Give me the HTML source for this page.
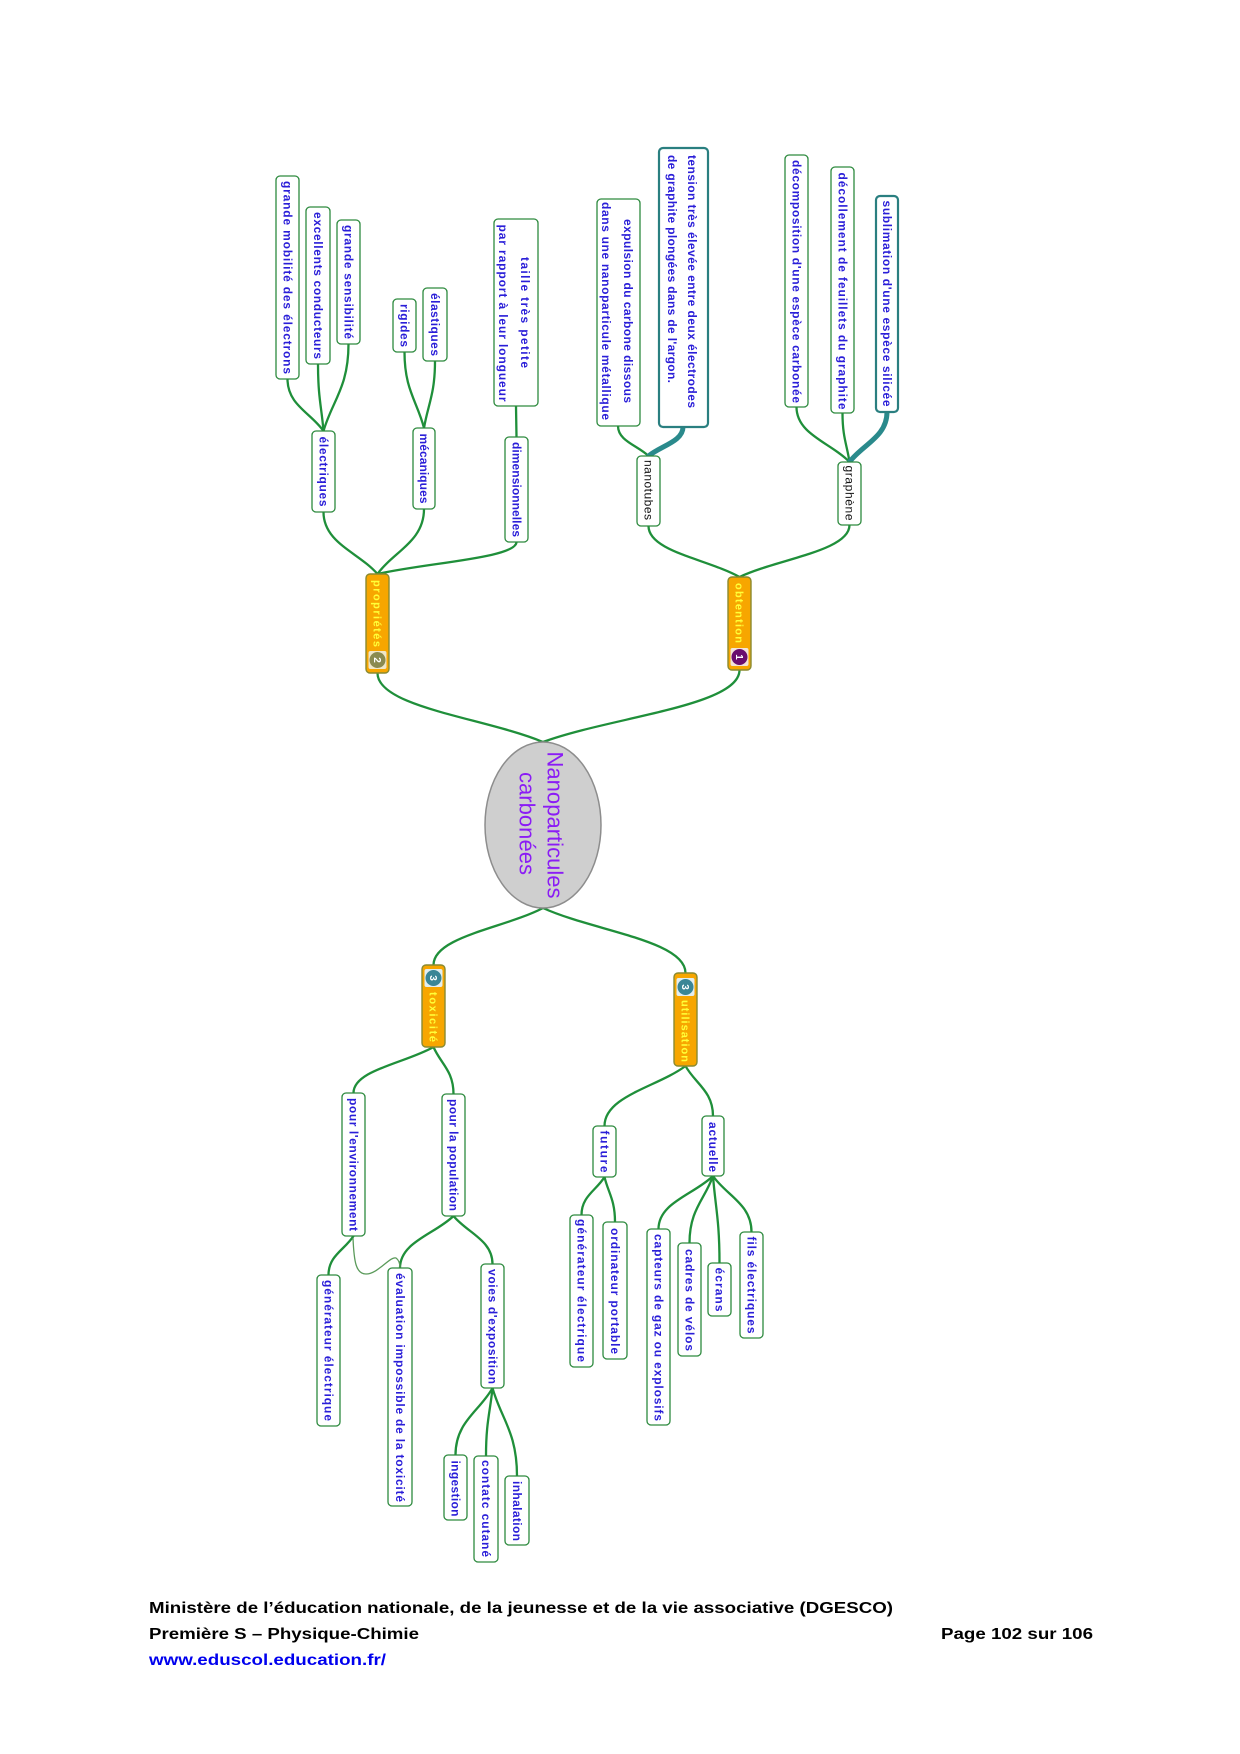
<!DOCTYPE html>
<html>
<head>
<meta charset="utf-8">
<style>
html,body{margin:0;padding:0;background:#fff;}
svg{display:block;}
.b{fill:#fff;stroke:#2d8a3e;stroke-width:1.3;}
.bt{fill:#fff;stroke:#2a7f80;stroke-width:2.2;}
.o{fill:#f7a600;stroke:#8a8a30;stroke-width:1.4;}
.t{font-family:"Liberation Sans",sans-serif;font-weight:bold;font-size:12px;fill:#2a1ed8;}
.k{font-family:"Liberation Sans",sans-serif;font-weight:normal;font-size:12px;fill:#111;}
.y{font-family:"Liberation Sans",sans-serif;font-weight:bold;font-size:11px;fill:#ffff38;}
.c{fill:none;stroke:#1f8f3a;stroke-width:2.3;stroke-linecap:round;}
.ct{fill:none;stroke:#2a8a8c;stroke-width:5;stroke-linecap:round;}
.f{font-family:"Liberation Sans",sans-serif;font-weight:bold;font-size:16px;fill:#000;}
.n{font-family:"Liberation Sans",sans-serif;font-weight:bold;font-size:10px;fill:#fff;}
</style>
</head>
<body>
<svg width="1240" height="1754" viewBox="0 0 1240 1754" xmlns="http://www.w3.org/2000/svg">
<rect x="0" y="0" width="1240" height="1754" fill="#fff"/>

<!-- connectors top half -->
<path class="c" d="M323.5,431 C310.9,412.8 287.5,405 287.5,379"/>
<path class="c" d="M323.5,431 C321.6,407.5 318,397.5 318,364"/>
<path class="c" d="M323.5,431 C332.3,400.6 348.5,387.5 348.5,344"/>
<path class="c" d="M424,428 C417.2,401.4 404.5,390 404.5,352"/>
<path class="c" d="M424,428 C427.9,404.6 435,394.5 435,361"/>
<path class="c" d="M516.5,437 L516,406"/>
<path class="c" d="M377.5,574 C358.6,552.3 323.5,543 323.5,512"/>
<path class="c" d="M377.5,574 C393.8,551.3 424,541.5 424,509"/>
<path class="c" d="M377.5,574 C426.2,562.8 516.5,558 516.5,542"/>
<path class="c" d="M648.5,456 C637.8,445.5 618,441 618,426"/>
<path class="ct" d="M648.5,456 C660.6,445.9 683,441.5 683,427"/>
<path class="c" d="M849.5,462 C831,442.8 796.5,434.5 796.5,407"/>
<path class="c" d="M849.5,462 C847,444.9 842.5,437.5 842.5,413"/>
<path class="ct" d="M849.5,462 C862.6,444.5 887,437 887,412"/>
<path class="c" d="M739.5,577 C707.7,559.2 648.5,551.5 648.5,526"/>
<path class="c" d="M739.5,577 C778,558.8 849.5,551 849.5,525"/>
<path class="c" d="M543,742 C485.1,717.9 377.5,707.5 377.5,673"/>
<path class="c" d="M543,742 C611.8,716.8 739.5,706 739.5,670"/>

<!-- connectors bottom half -->
<path class="c" d="M543,908 C504.7,928 433.5,936.5 433.5,965"/>
<path class="c" d="M543,908 C592.9,930.8 685.5,940.5 685.5,973"/>
<path class="c" d="M433.5,1047 C405.5,1063.1 353.5,1070 353.5,1093"/>
<path class="c" d="M433.5,1047 C440.5,1063.5 453.5,1070.5 453.5,1094"/>
<path class="c" d="M353.5,1236 C344.8,1249.7 328.5,1255.5 328.5,1275"/>
<path class="c" d="M453.5,1216 C434.8,1234.2 400,1242 400,1268"/>
<path class="c" d="M453.5,1216 C467.2,1232.8 492.5,1240 492.5,1264"/>
<path class="c" d="M492.5,1388 C479.5,1411.5 455.5,1421.5 455.5,1455"/>
<path class="c" d="M492.5,1388 C490.2,1411.8 486,1422 486,1456"/>
<path class="c" d="M492.5,1388 C501.1,1418.8 517,1432 517,1476"/>
<path class="c" d="M685.5,1066 C657.2,1087 604.5,1096 604.5,1126"/>
<path class="c" d="M685.5,1066 C695.1,1083.5 713,1091 713,1116"/>
<path class="c" d="M604.5,1177 C596.5,1190.3 581.5,1196 581.5,1215"/>
<path class="c" d="M604.5,1177 C608.2,1192.8 615,1199.5 615,1222"/>
<path class="c" d="M713,1176 C693.9,1194.6 658.5,1202.5 658.5,1229"/>
<path class="c" d="M713,1176 C704.8,1199.5 689.5,1209.5 689.5,1243"/>
<path class="c" d="M713,1176 C715.3,1206.5 719.5,1219.5 719.5,1263"/>
<path class="c" d="M713,1176 C726.5,1195.6 751.5,1204 751.5,1232"/>
<path d="M353,1238 C354,1262 356,1274 366,1274 C378,1274 390,1256 396,1258 C399,1260 400,1264 400,1268" fill="none" stroke="#5a9a5a" stroke-width="1.3"/>

<!-- top-left leaves -->
<rect class="b" x="276" y="176" width="23" height="203" rx="4"/>
<text class="t" transform="translate(287.5,277.5) rotate(90)" x="-96.5" y="0" dy="0.35em" textLength="193" lengthAdjust="spacing">grande mobilité des électrons</text>
<rect class="b" x="306" y="207" width="24" height="157" rx="4"/>
<text class="t" transform="translate(318,285.5) rotate(90)" x="-73.5" y="0" dy="0.35em" textLength="147" lengthAdjust="spacing">excellents conducteurs</text>
<rect class="b" x="337" y="220" width="23" height="124" rx="4"/>
<text class="t" transform="translate(348.5,282) rotate(90)" x="-57" y="0" dy="0.35em" textLength="114" lengthAdjust="spacing">grande sensibilité</text>
<rect class="b" x="393" y="299" width="23" height="53" rx="4"/>
<text class="t" transform="translate(404.5,325.5) rotate(90)" x="-21.5" y="0" dy="0.35em" textLength="43" lengthAdjust="spacing">rigides</text>
<rect class="b" x="423" y="288" width="24" height="73" rx="4"/>
<text class="t" transform="translate(435,324.5) rotate(90)" x="-31.5" y="0" dy="0.35em" textLength="63" lengthAdjust="spacing">élastiques</text>
<rect class="b" x="494" y="219" width="44" height="187" rx="4"/>
<text class="t" transform="translate(525,312.5) rotate(90)" x="-55.5" y="0" dy="0.35em" textLength="111" lengthAdjust="spacing">taille très petite</text>
<text class="t" transform="translate(503,313) rotate(90)" x="-88.5" y="0" dy="0.35em" textLength="177" lengthAdjust="spacing">par rapport à leur longueur</text>

<rect class="b" x="312" y="431" width="23" height="81" rx="4"/>
<text class="t" transform="translate(323.5,471.5) rotate(90)" x="-35" y="0" dy="0.35em" textLength="70" lengthAdjust="spacing">électriques</text>
<rect class="b" x="413" y="428" width="22" height="81" rx="4"/>
<text class="t" transform="translate(424,468.5) rotate(90)" x="-35" y="0" dy="0.35em" textLength="70" lengthAdjust="spacing">mécaniques</text>
<rect class="b" x="505" y="437" width="23" height="105" rx="4"/>
<text class="t" transform="translate(516.5,489.5) rotate(90)" x="-47.5" y="0" dy="0.35em" textLength="95" lengthAdjust="spacing">dimensionnelles</text>

<!-- top-right leaves -->
<rect class="b" x="597" y="199" width="43" height="227" rx="4"/>
<text class="t" transform="translate(628,311) rotate(90)" x="-92" y="0" dy="0.35em" textLength="184" lengthAdjust="spacing">expulsion du carbone dissous</text>
<text class="t" transform="translate(606,311) rotate(90)" x="-109" y="0" dy="0.35em" textLength="218" lengthAdjust="spacing">dans une nanoparticule métallique</text>
<rect class="bt" x="659" y="148" width="49" height="279" rx="4"/>
<text class="t" transform="translate(692,155) rotate(90)" x="0" y="0" dy="0.35em" textLength="253" lengthAdjust="spacing">tension très élevée entre deux électrodes</text>
<text class="t" transform="translate(672,155) rotate(90)" x="0" y="0" dy="0.35em" textLength="228" lengthAdjust="spacing">de graphite plongées dans de l'argon.</text>
<rect class="b" x="785" y="155" width="23" height="252" rx="4"/>
<text class="t" transform="translate(796.5,281.5) rotate(90)" x="-121.5" y="0" dy="0.35em" textLength="243" lengthAdjust="spacing">décomposition d'une espèce carbonée</text>
<rect class="b" x="831" y="167" width="23" height="246" rx="4"/>
<text class="t" transform="translate(842.5,291) rotate(90)" x="-118.5" y="0" dy="0.35em" textLength="237" lengthAdjust="spacing">décollement de feuillets du graphite</text>
<rect class="bt" x="876" y="196" width="22" height="216" rx="4"/>
<text class="t" transform="translate(887,303.5) rotate(90)" x="-103" y="0" dy="0.35em" textLength="206" lengthAdjust="spacing">sublimation d'une espèce silicée</text>

<rect class="b" x="637" y="456" width="23" height="70" rx="4"/>
<text class="k" transform="translate(648.5,490) rotate(90)" x="-30" y="0" dy="0.35em" textLength="60" lengthAdjust="spacing">nanotubes</text>
<rect class="b" x="838" y="462" width="23" height="63" rx="4"/>
<text class="k" transform="translate(849.5,493) rotate(90)" x="-27.5" y="0" dy="0.35em" textLength="55" lengthAdjust="spacing">graphène</text>

<!-- orange main branches -->
<rect class="o" x="366" y="574" width="23" height="99" rx="4"/>
<text class="y" transform="translate(377.5,613.5) rotate(90)" x="-33.5" y="0" dy="0.35em" textLength="67" lengthAdjust="spacing">propriétés</text>
<rect x="368.5" y="651" width="18" height="18" rx="2" fill="#efe6c8"/>
<circle cx="377.5" cy="660" r="8" fill="#8a8a50"/>
<text class="n" transform="translate(377.5,660) rotate(90)" text-anchor="middle" dy="0.35em">2</text>

<rect class="o" x="728" y="577" width="23" height="93" rx="4"/>
<text class="y" transform="translate(739.5,613) rotate(90)" x="-30" y="0" dy="0.35em" textLength="60" lengthAdjust="spacing">obtention</text>
<rect x="730.5" y="648" width="18" height="18" rx="2" fill="#f2e4d8"/>
<circle cx="739.5" cy="657" r="8" fill="#6a0e6e"/>
<text class="n" transform="translate(739.5,657) rotate(90)" text-anchor="middle" dy="0.35em">1</text>

<rect class="o" x="422" y="965" width="23" height="82" rx="4"/>
<rect x="424.5" y="969" width="18" height="18" rx="2" fill="#e2eef0"/>
<circle cx="433.5" cy="978" r="8" fill="#3a8696"/>
<text class="n" transform="translate(433.5,978) rotate(90)" text-anchor="middle" dy="0.35em">3</text>
<text class="y" transform="translate(433.5,1017) rotate(90)" x="-25" y="0" dy="0.35em" textLength="50" lengthAdjust="spacing">toxicité</text>

<rect class="o" x="674" y="973" width="23" height="93" rx="4"/>
<rect x="676.5" y="978" width="18" height="18" rx="2" fill="#e2eef0"/>
<circle cx="685.5" cy="987" r="8" fill="#3a8696"/>
<text class="n" transform="translate(685.5,987) rotate(90)" text-anchor="middle" dy="0.35em">3</text>
<text class="y" transform="translate(685.5,1031) rotate(90)" x="-31" y="0" dy="0.35em" textLength="62" lengthAdjust="spacing">utilisation</text>

<!-- central ellipse -->
<ellipse cx="543" cy="825" rx="58" ry="83" fill="#cfcfcf" stroke="#8d8d8d" stroke-width="1.5"/>
<text transform="translate(555,825) rotate(90)" x="-73.5" y="0" dy="0.35em" textLength="147" lengthAdjust="spacing" style="font-family:'Liberation Sans',sans-serif;font-size:22px;fill:#8b1cf5;">Nanoparticules</text>
<text transform="translate(527,823.5) rotate(90)" x="-51.5" y="0" dy="0.35em" textLength="103" lengthAdjust="spacing" style="font-family:'Liberation Sans',sans-serif;font-size:22px;fill:#8b1cf5;">carbonées</text>

<!-- bottom-left nodes -->
<rect class="b" x="342" y="1093" width="23" height="143" rx="4"/>
<text class="t" transform="translate(353.5,1164.5) rotate(90)" x="-66.5" y="0" dy="0.35em" textLength="133" lengthAdjust="spacing">pour l'environnement</text>
<rect class="b" x="442" y="1094" width="23" height="122" rx="4"/>
<text class="t" transform="translate(453.5,1155) rotate(90)" x="-56" y="0" dy="0.35em" textLength="112" lengthAdjust="spacing">pour la population</text>
<rect class="b" x="317" y="1275" width="23" height="151" rx="4"/>
<text class="t" transform="translate(328.5,1350.5) rotate(90)" x="-70.5" y="0" dy="0.35em" textLength="141" lengthAdjust="spacing">générateur électrique</text>
<rect class="b" x="388" y="1268" width="24" height="238" rx="4"/>
<text class="t" transform="translate(400,1387.5) rotate(90)" x="-114.5" y="0" dy="0.35em" textLength="229" lengthAdjust="spacing">évaluation impossible de la toxicité</text>
<rect class="b" x="481" y="1264" width="23" height="124" rx="4"/>
<text class="t" transform="translate(492.5,1326.5) rotate(90)" x="-57.5" y="0" dy="0.35em" textLength="115" lengthAdjust="spacing">voies d'exposition</text>
<rect class="b" x="444" y="1455" width="23" height="65" rx="4"/>
<text class="t" transform="translate(455.5,1488.5) rotate(90)" x="-28" y="0" dy="0.35em" textLength="56" lengthAdjust="spacing">ingestion</text>
<rect class="b" x="474" y="1456" width="24" height="106" rx="4"/>
<text class="t" transform="translate(486,1508.5) rotate(90)" x="-48.5" y="0" dy="0.35em" textLength="97" lengthAdjust="spacing">contatc cutané</text>
<rect class="b" x="505" y="1476" width="24" height="69" rx="4"/>
<text class="t" transform="translate(517,1511) rotate(90)" x="-30" y="0" dy="0.35em" textLength="60" lengthAdjust="spacing">inhalation</text>

<!-- bottom-right nodes -->
<rect class="b" x="593" y="1126" width="23" height="51" rx="4"/>
<text class="t" transform="translate(604.5,1151.5) rotate(90)" x="-21" y="0" dy="0.35em" textLength="42" lengthAdjust="spacing">future</text>
<rect class="b" x="702" y="1116" width="22" height="60" rx="4"/>
<text class="t" transform="translate(713,1147) rotate(90)" x="-25" y="0" dy="0.35em" textLength="50" lengthAdjust="spacing">actuelle</text>
<rect class="b" x="570" y="1215" width="23" height="152" rx="4"/>
<text class="t" transform="translate(581.5,1290.5) rotate(90)" x="-71.5" y="0" dy="0.35em" textLength="143" lengthAdjust="spacing">générateur électrique</text>
<rect class="b" x="603" y="1222" width="24" height="137" rx="4"/>
<text class="t" transform="translate(615,1291) rotate(90)" x="-63" y="0" dy="0.35em" textLength="126" lengthAdjust="spacing">ordinateur portable</text>
<rect class="b" x="647" y="1229" width="23" height="196" rx="4"/>
<text class="t" transform="translate(658.5,1327.5) rotate(90)" x="-93.5" y="0" dy="0.35em" textLength="187" lengthAdjust="spacing">capteurs de gaz ou explosifs</text>
<rect class="b" x="678" y="1243" width="23" height="113" rx="4"/>
<text class="t" transform="translate(689.5,1300) rotate(90)" x="-51" y="0" dy="0.35em" textLength="102" lengthAdjust="spacing">cadres de vélos</text>
<rect class="b" x="708" y="1263" width="23" height="53" rx="4"/>
<text class="t" transform="translate(719.5,1289.5) rotate(90)" x="-22" y="0" dy="0.35em" textLength="44" lengthAdjust="spacing">écrans</text>
<rect class="b" x="740" y="1232" width="23" height="106" rx="4"/>
<text class="t" transform="translate(751.5,1285) rotate(90)" x="-48.5" y="0" dy="0.35em" textLength="97" lengthAdjust="spacing">fils électriques</text>

<!-- footer -->
<text class="f" x="149" y="1613" textLength="744" lengthAdjust="spacingAndGlyphs">Ministère de l’éducation nationale, de la jeunesse et de la vie associative (DGESCO)</text>
<text class="f" x="149" y="1639" textLength="270" lengthAdjust="spacingAndGlyphs">Première S – Physique-Chimie</text>
<text class="f" x="941" y="1639" textLength="152" lengthAdjust="spacingAndGlyphs">Page 102 sur 106</text>
<text class="f" x="149" y="1665" textLength="237" lengthAdjust="spacingAndGlyphs" style="fill:#0000ee;">www.eduscol.education.fr/</text>
</svg>
</body>
</html>
